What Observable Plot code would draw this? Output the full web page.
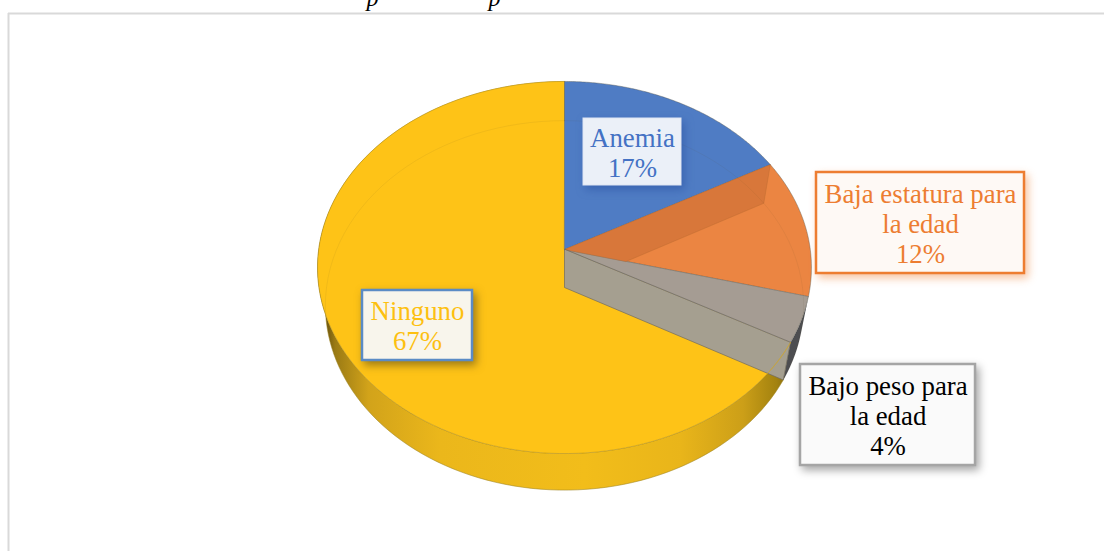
<!DOCTYPE html>
<html lang="es">
<head>
<meta charset="utf-8">
<script src="https://cdn.jsdelivr.net/npm/d3@7"></script>
<script src="https://cdn.jsdelivr.net/npm/@observablehq/plot@0.6"></script>
<style>
  html, body { margin: 0; padding: 0; background: #fff; overflow: hidden; }
  svg { display: block; }
</style>
</head>
<body>
<div id="chart"></div>
<script>
// Data
const categories = ["Anemia", "Baja estatura para la edad", "Bajo peso para la edad", "Ninguno"];
const values = [17, 12, 4, 67];
const labelLines = [["Anemia", "17%"], ["Baja estatura para", "la edad", "12%"], ["Bajo peso para", "la edad", "4%"], ["Ninguno", "67%"]];

// Styles
const faceColors = ["#4f7cc4", "#eb8542", "#a59c93", "#fec317"];
const textColors = ["#4472c4", "#ed7d31", "#000000", "#fdc010"];
const boxFills = ["#ebf0f8", "#fef9f5", "#fafafa", "#f8f5ec"];
const boxStrokes = ["#dfe6f3", "#ed7d31", "#a5a5a5", "#5b8bc5"];
const boxStrokeWidths = [1, 2.5, 2.5, 2.5];
const boxShadows = ["rgba(40,80,160,.55)", "rgba(237,125,49,.45)", "rgba(0,0,0,.35)", "rgba(60,50,20,.5)"];
const boxes = [[583, 681, 118, 185], [816, 1024, 172, 273], [800, 975, 364, 465], [362, 472, 290, 360]];
const lineStartY = [137.5, 193.5, 385.5, 310.5];

// Layout of the tilted disc: a circle seen in perspective
const W = 1104, H = 551;
const persp = 0.0968;
const topFace = {cx: 564, cy: 249, rx: 245.8, ry: 184.3};
const baseFace = {cx: 564, cy: 287, rx: 238, ry: 183};
const project = (f, deg, r = 1) => {
  const t = deg * Math.PI / 180, u = r * Math.sin(t), v = r * Math.cos(t), d = 1 + persp * v;
  return [f.cx + f.rx * u / d, f.cy - f.ry * v / d];
};
const rim = (f, a0, a1) => d3.range(0, 121).map(i => project(f, a0 + (a1 - a0) * i / 120));

// Cumulative angles from the values
const total = d3.sum(values);
const cum = d3.cumsum(values);
const angles = values.map((v, i) => [(i ? cum[i - 1] : 0) / total * 360, cum[i] / total * 360]);
const apexTop = [topFace.cx, topFace.cy];
const apexBase = [baseFace.cx, baseFace.cy];
const sector = ([a0, a1]) => [apexTop, ...rim(topFace, a0, a1)];

// Intersection of two segments' lines
const cross = (p1, p2, p3, p4) => {
  const d = (p1[0] - p2[0]) * (p3[1] - p4[1]) - (p1[1] - p2[1]) * (p3[0] - p4[0]);
  const a = p1[0] * p2[1] - p1[1] * p2[0], b = p3[0] * p4[1] - p3[1] * p4[0];
  return [(a * (p3[0] - p4[0]) - (p1[0] - p2[0]) * b) / d, (a * (p3[1] - p4[1]) - (p1[1] - p2[1]) * b) / d];
};

const a1 = angles[0][1], a2 = angles[1][1], a3 = angles[2][1];

// Polygons
const yellowWall = [...rim(topFace, a3, 360), ...rim(baseFace, 360, a3)];
const greyWall = [...rim(topFace, a2, a3), ...rim(baseFace, a3, a2)];
const blueCutBaseRim = project(baseFace, a1);
const greyEdgeRim = project(topFace, a2);
const orangeCut = [apexTop, project(topFace, a1), blueCutBaseRim, cross(apexBase, blueCutBaseRim, apexTop, greyEdgeRim)];
const greyCut = [apexTop, apexBase, project(baseFace, a3), project(topFace, a3)];
const baseOutline = rim(baseFace, 0, 360);
const yellowRimPart = rim(topFace, a3, a3 + 12);

const poly = (pts, opts) => Plot.line(pts, {x: d => d[0], y: d => d[1], curve: "linear-closed", ...opts});
const path = (pts, opts) => Plot.line(pts, {x: d => d[0], y: d => d[1], fill: "none", ...opts});

const gradient = () => {
  const defs = d3.create("svg:defs");
  const g = defs.append("linearGradient").attr("id", "wall")
    .attr("gradientUnits", "userSpaceOnUse")
    .attr("x1", 320).attr("x2", 800).attr("y1", 0).attr("y2", 0);
  [[0, "#4f3c0c"], [0.03, "#9a7a14"], [0.1, "#d2a31a"], [0.25, "#ebb71b"], [0.55, "#f2bd1a"],
   [0.75, "#e9b51a"], [0.88, "#cc9f18"], [0.95, "#a3820f"], [1, "#6a5510"]]
    .forEach(([o, c]) => g.append("stop").attr("offset", o).attr("stop-color", c));
  return defs.node();
};

const edge = {stroke: "#5a5a50", strokeWidth: 0.7, strokeOpacity: 0.6};

const labelRows = labelLines.flatMap((lines, i) => lines.map((t, j) => ({
  t, i, x: (boxes[i][0] + boxes[i][1]) / 2, y: lineStartY[i] + j * 30.4
})));
const boxRows = boxes.map((b, i) => ({i, x1: b[0], x2: b[1], y1: b[2], y2: b[3]}));

const chart = Plot.plot({
  width: W, height: H,
  margin: 0,
  x: {type: "linear", domain: [0, W], range: [0, W], axis: null},
  y: {type: "linear", domain: [0, H], range: [0, H], axis: null},
  style: {background: "#fff", fontFamily: "'Liberation Serif', 'Times New Roman', serif"},
  marks: [
    gradient,
    // frame of the figure, running off the page at right and bottom
    Plot.ruleX([8], {y1: 13, y2: H, stroke: "#d9d9d9", strokeWidth: 2}),
    Plot.ruleY([13], {x1: 8, x2: W, stroke: "#d9d9d9", strokeWidth: 2}),
    // descenders of the title cropped at the top of the page
    Plot.text(["p", "p"], {
      x: (d, i) => [372, 494][i], y: 5, text: d => d, lineAnchor: "bottom",
      fontSize: 24, fontStyle: "italic", fill: "#000"
    }),
    // side walls
    poly(yellowWall, {fill: "url(#wall)", stroke: "#a98c20", strokeWidth: 0.5}),
    poly(greyWall, {fill: "#4d4d50"}),
    // top faces
    poly(sector(angles[3]), {fill: faceColors[3], ...edge, stroke: "#a88a20"}),
    poly(sector(angles[0]), {fill: faceColors[0], ...edge}),
    poly(sector(angles[1]), {fill: faceColors[1], ...edge}),
    poly(sector(angles[2]), {fill: faceColors[2], ...edge}),
    // cut faces seen through the translucent disc
    poly(orangeCut, {fill: "#d8773a", stroke: "#b8692f", strokeWidth: 0.4}),
    poly(greyCut, {fill: "#a59f90", stroke: "#6e6a62", strokeWidth: 0.7}),
    path(yellowRimPart, {stroke: "#d6a820", strokeWidth: 1}),
    // base ellipse faintly visible through the disc
    path(baseOutline, {curve: "linear-closed", stroke: "#5a4a20", strokeWidth: 0.8, strokeOpacity: 0.1}),
    // label boxes
    Plot.rect(boxRows, {
      x1: "x1", x2: "x2", y1: "y1", y2: "y2",
      fill: d => boxFills[d.i], stroke: d => boxStrokes[d.i], strokeWidth: d => boxStrokeWidths[d.i]
    }),
    Plot.text(labelRows, {
      x: "x", y: "y", text: "t", fontSize: 26.8, textAnchor: "middle",
      fill: d => textColors[d.i]
    })
  ]
});

// Soft drop shadows of the label boxes
d3.select(chart).selectAll('g[aria-label="rect"] rect')
  .style("filter", (_, i) => `drop-shadow(3px 4px 4px ${boxShadows[i]})`);

document.getElementById("chart").appendChild(chart);
</script>
</body>
</html>
